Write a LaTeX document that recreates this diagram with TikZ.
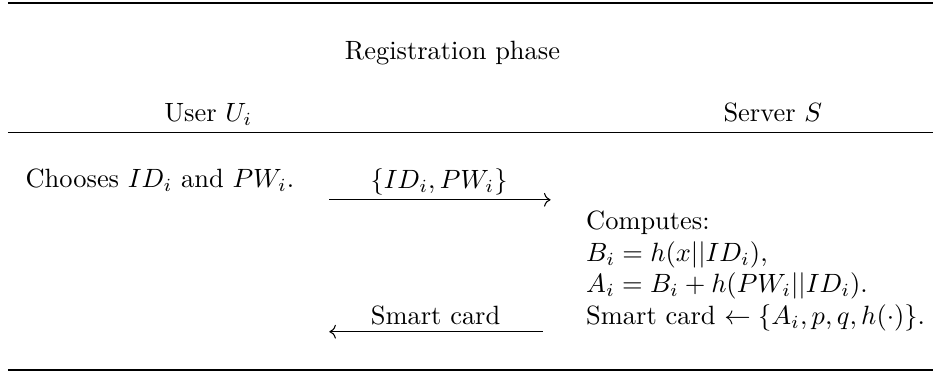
\documentclass[tikz,border=0pt]{standalone}
\usepackage{amsmath}
\usetikzlibrary{arrows.meta}

\begin{document}
\begin{tikzpicture}[x=1pt,y=1pt]
        \useasboundingbox (0,0) rectangle (353,141);
        \coordinate (tl) at (3,139.8);   \coordinate (tr) at (353,139.8);
        \coordinate (ml) at (3,90.9);    \coordinate (mr) at (353,90.9);
        \coordinate (bl) at (3,1.1);     \coordinate (br) at (353,1.1);
        \draw[line width=0.8pt] (tl) -- (tr);
        \draw[line width=0.5pt] (ml) -- (mr);
        \draw[line width=0.8pt] (bl) -- (br);
        \node[anchor=base] (phase) at (171.2,118.6) {Registration phase};
        \node[anchor=base] (user) at (78.8,95.1) {User $U_i$};
        \node[anchor=base] (server) at (292.4,95.1) {Server $S$};
        \node[anchor=base west, inner sep=0pt] (choose) at (9.5,70) {Chooses $ID_i$ and $PW_i$.};
        \node[anchor=base] (msga) at (166.1,69.6) {$\{ID_i, PW_i\}$};
        \coordinate (a1) at (124.6,65.4);
        \coordinate (a2) at (208.3,65.4);
        \draw[-{Computer Modern Rightarrow}] (a1) -- (a2);
        \foreach \t [count=\k] in {Computes:, {$B_i=h(x||ID_i)$,}, {$A_i=B_i+h(PW_i||ID_i)$.}, {Smart card $\leftarrow\{A_i,p,q,h(\cdot)\}$.}}
        {
            \node[anchor=base west, inner sep=0pt] (s\k) at (221.6,{54.2-12*(\k-1)}) {\t};
        }
        \node[anchor=base] (msgb) at (164.8,18.2) {Smart card};
        \coordinate (b1) at (205.3,15.5);
        \coordinate (b2) at (124.6,15.5);
        \draw[-{Computer Modern Rightarrow}] (b1) -- (b2);
    \end{tikzpicture}
\end{document}
